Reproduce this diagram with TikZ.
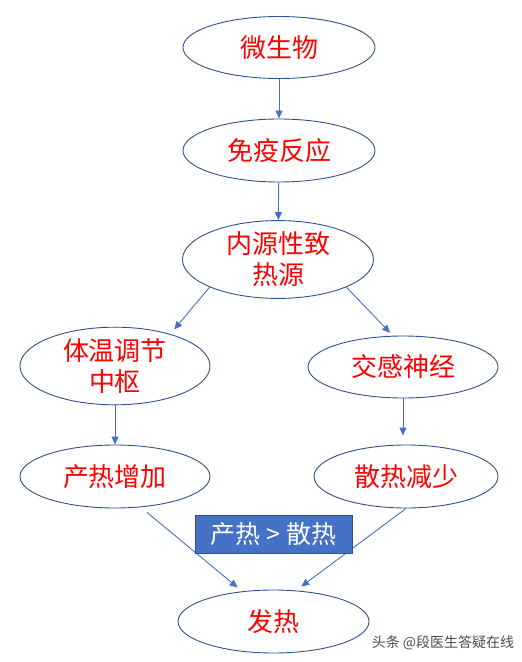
\documentclass[tikz,border=0pt]{standalone}
\usepackage{fontspec}
\setmainfont{Noto Sans CJK SC}
\usetikzlibrary{shapes.geometric, arrows.meta}
\definecolor{ringblue}{HTML}{2F528F}
\definecolor{arrowblue}{HTML}{4472C4}

\begin{document}
\begin{tikzpicture}[x=1pt,y=-1pt,->,>={Triangle[length=8pt,width=7pt]},
  main node/.style={ellipse,draw=ringblue,line width=0.9pt,inner sep=0pt,
    minimum width=192pt,minimum height=62pt,text=red,align=center,
    font=\fontsize{26}{31}\selectfont},
  note box/.style={rectangle,fill=arrowblue,draw=ringblue,line width=0.8pt,
    minimum width=157pt,minimum height=38pt,inner sep=0pt,text=white,
    font=\fontsize{25}{28}\selectfont}]
  \useasboundingbox (0,0) rectangle (522,662);
  \node[main node] (1) at (279,47.5) {微生物};
  \node[main node, minimum height=63pt] (2) at (279,150.5) {免疫反应};
  \node[main node, minimum width=191pt, minimum height=71pt] (3) at (278,259.5) {内源性致\\热源};
  \node[main node, minimum width=190pt] (4) at (115,366) {体温调节\\中枢};
  \node[main node, minimum width=190pt] (5) at (403,367) {交感神经};
  \node[main node, minimum width=190pt, minimum height=63pt] (6) at (115,476.5) {产热增加};
  \node[main node, minimum width=184pt, minimum height=63pt] (7) at (406,476.5) {散热减少};
  \node[main node, minimum width=191pt, minimum height=63pt] (8) at (273.5,621.5) {发热};
  \path[every edge/.style={draw=arrowblue,line width=0.9pt}]
    (1) edge (2)
    (2) edge (3)
    (3.202) edge[shorten >=6pt] (4.30)
    (3.-22) edge[shorten >=4pt] (5.108)
    (4) edge (6)
    (5.south) edge[shorten >=9pt] (5.south |- 7.north)
    (6.-50) edge[shorten <=8pt, shorten >=6pt] (8.136)
    (7.-90) edge[shorten >=6.5pt] (8.54);
  \node[note box] (gap) at (273.5,534) {产热 > 散热};
  \node[text=black!70, font=\fontsize{14}{16}\selectfont] (mark) at (443,643) {头条 @段医生答疑在线};
\end{tikzpicture}
\end{document}
